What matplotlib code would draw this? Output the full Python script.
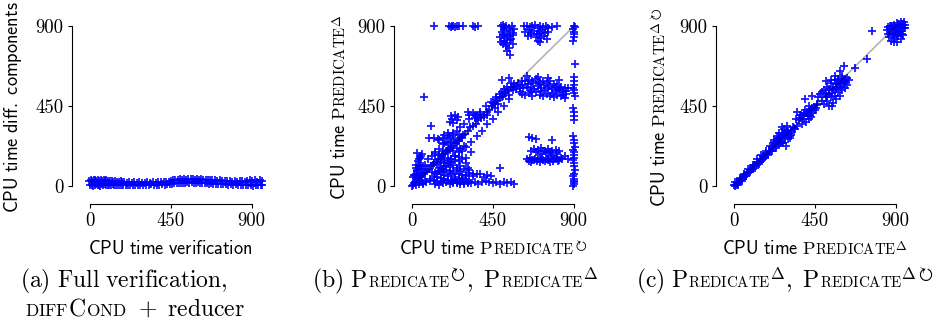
import matplotlib
matplotlib.use('Agg')
import matplotlib.pyplot as plt
from matplotlib.font_manager import FontProperties

plt.rcParams['mathtext.fontset'] = 'cm'

# ---------------- data ----------------
ticks = [0, 450, 900]
tick_labels = ['0', '450', '900']

# (a) full verification vs. diff components
a_x_upper = [-5, 4, 12, 20, 28, 36, 44, 52, 60, 68,
             76, 84, 92, 100, 110, 120, 130, 140, 150, 160,
             170, 180, 192, 205, 218, 232, 246, 260, 275, 290,
             305, 320, 335, 350, 365, 380, 395, 410, 425, 440,
             452, 464, 476, 488, 500, 512, 524, 536, 548, 560,
             572, 584, 596, 608, 620, 632, 644, 656, 668, 680,
             694, 708, 722, 736, 750, 764, 778, 792, 806, 820,
             834, 848, 862, 876, 890, 904, 918, 932, 946, 960]
a_y_upper = [30, 34, 27, 33, 36, 28, 34, 30, 35, 27,
             32, 29, 34, 26, 30, 27, 24, 29, 25, 22,
             26, 21, 24, 19, 22, 18, 21, 19, 20, 17,
             19, 21, 18, 20, 19, 22, 20, 23, 21, 25,
             28, 31, 34, 36, 38, 35, 39, 36, 40, 37,
             38, 35, 39, 36, 37, 33, 36, 32, 35, 31,
             33, 29, 31, 27, 30, 26, 28, 25, 27, 24,
             26, 29, 24, 28, 34, 26, 31, 24, 36, 27]
a_x_lower = [2, 10, 18, 26, 34, 42, 50, 58, 66, 74,
             82, 90, 98, 106, 116, 126, 136, 146, 156, 166,
             176, 186, 198, 211, 224, 238, 252, 266, 281, 296,
             311, 326, 341, 356, 371, 386, 401, 416, 431, 446,
             458, 470, 482, 494, 506, 518, 530, 542, 554, 566,
             578, 590, 602, 614, 626, 638, 650, 662, 674, 686,
             700, 714, 728, 742, 756, 770, 784, 798, 812, 826,
             840, 854, 868, 882, 896, 910, 924, 938, 952, 956]
a_y_lower = [4, 8, 2, 6, 10, 3, 7, 2, 9, 5,
             10, 4, 8, 6, 3, 9, 5, 7, 4, 8,
             6, 4, 8, 5, 7, 4, 6, 5, 8, 6,
             7, 6, 9, 5, 8, 6, 10, 7, 9, 11,
             13, 14, 16, 18, 15, 19, 17, 20, 18, 21,
             19, 17, 20, 16, 18, 15, 17, 13, 15, 12,
             13, 10, 12, 9, 11, 8, 10, 6, 9, 5,
             8, 4, 7, 3, 6, 2, 8, 5, 3, 7]

# (b) Predicate-loop (x) vs Predicate-delta (y)
b_top_x = [123, 208, 215, 222, 230, 238, 248, 262, 285, 340, 352, 368]
b_top_y = [900, 900, 898, 902, 900, 897, 903, 900, 900, 900, 898, 902]
b_ca_x = [495, 505, 515, 525, 540, 555, 570, 500, 512, 530, 545, 560, 490, 508,
          520, 535, 550, 565, 498, 515, 530, 545, 505, 525, 540, 560, 530, 545]
b_ca_y = [900, 910, 895, 905, 890, 900, 885, 870, 880, 860, 875, 865, 840, 850,
          835, 845, 830, 850, 815, 820, 805, 825, 800, 790, 780, 800, 760, 740]
b_cb_x = [625, 640, 655, 670, 685, 700, 715, 730, 745, 760, 780, 805,
          630, 650, 665, 680, 695, 710, 725, 740, 755,
          645, 660, 690, 705, 720, 735, 700, 715, 750]
b_cb_y = [900, 905, 895, 900, 910, 890, 900, 895, 905, 890, 895, 900,
          870, 880, 865, 875, 860, 870, 880, 865, 870,
          845, 850, 840, 855, 835, 845, 820, 815, 830]
b_col_x = [900, 905, 898, 903, 900, 902, 897, 905, 900, 903,
           900, 898, 902, 900, 905, 898, 900, 903, 900, 897,
           902, 900, 905, 898, 900, 903, 900, 897, 902, 900,
           905, 900, 898, 902, 900, 903, 900, 898]
b_col_y = [905, 895, 885, 870, 855, 840, 820, 690, 615, 590,
           570, 555, 540, 525, 510, 440, 415, 395, 370, 280,
           260, 240, 220, 205, 190, 175, 160, 145, 130, 115,
           90, 70, 55, 40, 30, 20, 10, 0]
b_cc_x = [570, 590, 610, 630, 650, 670, 690, 710, 730, 750, 770, 790, 810, 830, 850, 870,
          580, 600, 620, 640, 660, 680, 700, 720, 740, 760, 780, 800, 820, 840, 860,
          610, 630, 650, 670, 690, 710, 730, 750, 770, 790, 810, 830, 850,
          640, 700, 760, 820]
b_cc_y = [575, 580, 590, 595, 600, 590, 605, 585, 595, 580, 590, 575, 570, 560, 555, 550,
          545, 555, 550, 560, 555, 545, 565, 550, 540, 555, 545, 535, 540, 530, 520,
          520, 515, 525, 510, 530, 515, 505, 520, 510, 500, 515, 505, 495,
          620, 615, 610, 600]
b_cc2_x = [560, 585, 615, 645, 675, 705, 735, 765, 795, 825, 855, 600, 660, 720, 780, 840]
b_cc2_y = [560, 565, 570, 575, 580, 575, 570, 565, 560, 545, 535, 530, 535, 535, 525, 515]
b_cd_x = [650, 670, 690, 780,
          660, 680, 700, 720, 740, 760, 780, 800, 820,
          640, 655, 670, 685, 700, 715, 730, 745, 760, 775, 790, 805, 820, 835, 850, 870,
          720, 750, 780]
b_cd_y = [275, 270, 265, 260,
          200, 210, 205, 215, 200, 210, 195, 205, 200,
          150, 160, 145, 155, 150, 160, 145, 155, 150, 165, 150, 160, 145, 155, 170, 150,
          180, 185, 175]
b_cd2_x = [650, 665, 680, 695, 710, 725, 740, 755, 770, 785, 800, 815, 830, 690, 730, 770, 810]
b_cd2_y = [140, 135, 145, 140, 135, 150, 140, 145, 135, 140, 150, 140, 160, 190, 195, 190, 185]
b_low_x = [230, 250, 270, 290, 310, 330, 350, 370, 390, 410, 430, 450, 470, 490, 510, 530,
           550, 570, 300, 320, 340, 360, 380, 400, 420, 440, 490]
b_low_y = [20, 15, 25, 10, 20, 15, 25, 10, 20, 30, 25, 15, 20, 10, 25, 15,
           20, 10, 60, 75, 55, 70, 65, 50, 60, 55, 100]
b_diag_x = [5, 15, 25, 35, 45, 55, 65, 75, 85, 95, 105, 115, 125, 135, 145, 155, 165, 175,
            185, 195, 205, 215, 225, 235, 245, 255, 265, 275, 285, 295, 310, 325, 340, 355,
            370, 385, 400, 415, 430, 445, 460, 475, 490, 505, 520, 535, 550]
b_diag_y = [8, 20, 30, 35, 50, 55, 70, 80, 90, 95, 110, 120, 130, 135, 150, 155, 170, 180,
            185, 195, 210, 215, 225, 240, 245, 255, 270, 275, 290, 295, 310, 330, 340, 350,
            375, 385, 400, 420, 430, 450, 465, 480, 500, 510, 525, 540, 550]
b_above_x = [10, 30, 50, 70, 90, 110, 130, 150, 170, 190, 210, 230, 250, 270, 290,
             320, 350, 380, 410, 440, 470, 500]
b_above_y = [60, 85, 110, 120, 150, 170, 190, 210, 235, 250, 270, 290, 310, 330, 350,
             380, 400, 420, 450, 475, 500, 530]
b_below_x = [60, 80, 100, 120, 140, 160, 180, 200, 220, 240, 260, 280, 300, 330, 360,
             390, 420, 450, 480, 510, 540]
b_below_y = [10, 20, 40, 50, 70, 90, 110, 130, 150, 170, 190, 200, 220, 250, 280,
             310, 350, 380, 420, 450, 490]
b_blob_x = [130, 150, 170, 190, 210, 230, 250, 270, 290, 310,
            140, 160, 180, 200, 220, 240, 260, 280, 300,
            150, 170, 190, 210, 230, 250, 270,
            160, 180, 200, 220, 240, 260,
            320, 340, 300, 330]
b_blob_y = [10, 5, 15, 20, 10, 15, 25, 10, 20, 15,
            50, 45, 60, 55, 65, 50, 70, 60, 55,
            100, 95, 110, 105, 120, 100, 115,
            150, 145, 160, 155, 170, 165,
            90, 70, 130, 190]
b_blob2_x = [100, 120, 140, 160, 180, 200, 220, 240, 260, 280, 300, 320,
             110, 130, 150, 170, 190, 210, 230, 250, 270, 290, 310,
             120, 140, 160, 180, 200, 220, 240, 260, 280, 300,
             130, 150, 170, 190, 210, 230, 250, 270, 290,
             180, 200, 220, 240, 260, 280, 200, 230, 260]
b_blob2_y = [30, 35, 25, 30, 40, 35, 30, 40, 35, 45, 40, 30,
             80, 75, 85, 80, 90, 85, 80, 90, 85, 95, 100,
             130, 125, 135, 130, 140, 135, 145, 140, 150, 160,
             180, 175, 200, 195, 205, 200, 215, 210, 225,
             240, 235, 250, 260, 255, 270, 280, 300, 290]
b_left_x = [0, 10, 20, 30, 40, 50, 60, 70, 5, 15, 25, 35, 45, 55, 20, 30, 40, 50, 60,
            35, 45, 55]
b_left_y = [0, 15, 5, 20, 10, 25, 15, 30, 50, 60, 45, 70, 55, 75, 100, 90, 110, 95, 115,
            140, 160, 180]
b_upleft_x = [67, 106, 95, 120, 145, 173, 30, 50, 40, 20, 45, 210, 225, 240, 255,
              230, 250, 215, 320, 340, 360, 380, 400, 420, 350, 313, 150, 180, 200]
b_upleft_y = [503, 341, 268, 270, 265, 268, 185, 170, 150, 120, 110, 360, 380, 400, 390,
              355, 370, 395, 400, 410, 395, 405, 390, 400, 385, 419, 260, 290, 300]
b_mid_x = [450, 470, 490, 510, 530, 550, 480, 500, 520, 540, 560, 460, 500, 540]
b_mid_y = [470, 490, 520, 545, 560, 580, 460, 500, 530, 515, 540, 440, 600, 610]

# (c) Predicate-delta (x) vs Predicate-delta-loop (y)
c_line_x = [2, 10, 18, 26, 34, 42, 50, 58, 66, 74, 82, 90, 98, 106, 114, 122, 130, 138,
            146, 154, 162, 170, 178, 186, 194, 202, 210, 218, 226, 234, 242, 250]
c_line_y = [5, 8, 20, 22, 35, 40, 48, 60, 62, 76, 80, 92, 96, 108, 118, 120, 135, 136,
            150, 152, 168, 165, 185, 182, 200, 198, 218, 212, 235, 228, 250, 245]
c_line2_x = [5, 15, 25, 35, 45, 55, 65, 75, 85, 95, 105, 115, 125, 135, 145, 155, 165,
             175, 185, 195, 205, 215, 225, 235]
c_line2_y = [0, 12, 15, 28, 38, 50, 58, 72, 80, 90, 95, 112, 118, 132, 135, 152, 160,
             168, 178, 196, 200, 212, 218, 238]
c_line3_x = [8, 20, 32, 44, 56, 68, 80, 92, 104, 116, 128, 140, 152, 164, 176, 188, 200,
             212, 224, 236, 248, 260, 272, 284]
c_line3_y = [20, 5, 45, 30, 70, 55, 95, 78, 120, 100, 150, 125, 175, 150, 200, 175, 225,
             195, 250, 215, 270, 245, 285, 300]
c_c1_x = [225, 240, 255, 270, 285, 300, 315, 330, 235, 260, 280, 300, 320, 250, 275,
          295, 310, 270, 290, 340,
          230, 245, 260, 275, 290, 305, 320, 335, 250, 280, 310, 265, 295]
c_c1_y = [260, 280, 240, 300, 270, 310, 290, 330, 235, 255, 320, 265, 300, 300, 245,
          340, 270, 330, 225, 320,
          245, 265, 275, 285, 295, 300, 310, 325, 270, 290, 280, 250, 310]
c_c2_x = [360, 375, 390, 405, 420, 435, 450, 380, 400, 420, 440, 370, 395, 415, 430,
          460, 350, 345, 365, 385, 405, 425, 445, 465, 390, 410, 430, 455]
c_c2_y = [370, 400, 380, 420, 400, 440, 430, 350, 360, 380, 410, 400, 430, 450, 390,
          460, 340, 380, 385, 395, 410, 425, 445, 455, 410, 395, 430, 440]
c_c3_x = [480, 500, 520, 540, 560, 580, 600, 620, 490, 510, 530, 550, 570, 590, 610, 630,
          500, 520, 540, 560, 580, 600, 620, 530, 550, 570, 590, 470, 510, 560, 600, 640,
          490, 510, 530, 550, 570, 590, 610, 630, 520, 545, 570, 595, 620, 540, 580]
c_c3_y = [520, 540, 560, 580, 600, 590, 610, 600, 480, 500, 520, 540, 560, 570, 580, 570,
          460, 480, 500, 510, 530, 540, 550, 450, 470, 490, 510, 500, 590, 620, 620, 600,
          530, 520, 545, 555, 575, 580, 595, 610, 505, 525, 545, 560, 585, 600, 605]
c_out_x = [397, 436, 548, 593, 610, 676, 743, 771, 350]
c_out_y = [492, 509, 453, 649, 676, 665, 716, 872, 420]
c_top_x = [850, 870, 890, 910, 930, 945, 860, 880, 900, 920, 940, 865, 885, 905, 925, 945,
           875, 895, 915, 935, 880, 900, 920, 940, 890, 910, 930,
           855, 875, 895, 915, 935, 950, 870, 890, 910, 930, 950]
c_top_y = [880, 900, 910, 920, 930, 925, 860, 870, 880, 900, 910, 840, 850, 860, 880, 890,
           820, 830, 845, 860, 900, 890, 870, 850, 810, 815, 830,
           895, 905, 895, 910, 915, 910, 885, 860, 855, 875, 890]

a_x = a_x_upper + a_x_lower
a_y = a_y_upper + a_y_lower
b_x = (b_top_x + b_ca_x + b_cb_x + b_col_x + b_cc_x + b_cc2_x + b_cd_x + b_cd2_x
       + b_low_x + b_diag_x + b_above_x + b_below_x + b_blob_x + b_blob2_x + b_left_x
       + b_upleft_x + b_mid_x)
b_y = (b_top_y + b_ca_y + b_cb_y + b_col_y + b_cc_y + b_cc2_y + b_cd_y + b_cd2_y
       + b_low_y + b_diag_y + b_above_y + b_below_y + b_blob_y + b_blob2_y + b_left_y
       + b_upleft_y + b_mid_y)
c_x = c_line_x + c_line2_x + c_line3_x + c_c1_x + c_c2_x + c_c3_x + c_out_x + c_top_x
c_y = c_line_y + c_line2_y + c_line3_y + c_c1_y + c_c2_y + c_c3_y + c_out_y + c_top_y

# ---------------- figure ----------------
W, H = 936, 324
fig = plt.figure(figsize=(W / 100, H / 100), dpi=100)

XL = (-100, 980)
YL = (-100, 950)
TOP_PX, BOT_PX, WID_PX = 17.6, 203.7, 194


def make_ax(left_px):
    ax = fig.add_axes([left_px / W, 1 - BOT_PX / H, WID_PX / W, (BOT_PX - TOP_PX) / H])
    ax.set_xlim(*XL)
    ax.set_ylim(*YL)
    for s in ['top', 'right']:
        ax.spines[s].set_visible(False)
    for s in ['left', 'bottom']:
        ax.spines[s].set_bounds(ticks[0], ticks[-1])
        ax.spines[s].set_linewidth(0.8)
    ax.set_xticks(ticks, tick_labels)
    ax.set_yticks(ticks, tick_labels)
    ax.tick_params(length=3, width=0.8, pad=3, labelsize=13.5, labelfontfamily='cmr10')
    ax.patch.set_visible(False)
    return ax


def scatter(ax, x, y, diag=True):
    ax.plot(x, y, ls='none', marker='+', ms=5.6, mew=1.3, color='#0000ff',
            alpha=0.9, zorder=2)
    if diag:
        ax.plot([ticks[0], ticks[-1]], [ticks[0], ticks[-1]], color='black',
                alpha=0.3, lw=1.2, zorder=3, solid_capstyle='butt')


axa = make_ax(72)
axb = make_ax(394)
axc = make_ax(716)
scatter(axa, a_x, a_y, diag=False)
scatter(axb, b_x, b_y)
scatter(axc, c_x, c_y)

# ---------------- rich text labels ----------------
renderer = fig.canvas.get_renderer()


def piece_width(s, size):
    w, h, d = renderer.get_text_width_height_descent(s, FontProperties(size=size), ismath=True)
    return w


def rich(pieces, x_px, y_px, align='center', vertical=False):
    pieces = [p if len(p) == 3 else (p[0], p[1], 0) for p in pieces]
    widths = [piece_width(s, sz) + k for s, sz, k in pieces]
    total = sum(widths)
    pos = -total / 2 if align == 'center' else 0
    for (s, sz, k), w in zip(pieces, widths):
        pos += k
        if vertical:
            fig.text(x_px / W, 1 - (y_px - pos) / H, s, fontsize=sz, rotation=90,
                     rotation_mode='anchor', ha='left', va='baseline')
        else:
            fig.text((x_px + pos) / W, 1 - y_px / H, s, fontsize=sz,
                     ha='left', va='baseline')
        pos += w - k


LS, SC = 13.2, 10.6
CS, CSC = 17, 10.8
KA = -3  # pull the circular-arrow superscript closer
KD = -2  # pull the delta superscript closer

cpu_p = r"$\mathsf{CPU\ time}\ \mathrm{P}$"
red = r"$\mathrm{REDICATE}$"
xlabel_a = [(r"$\mathsf{CPU\ time\ verification}$", LS)]
ylabel_a = [(r"$\mathsf{CPU\ time\ diff.\ components}$", LS)]
xlabel_b = [(cpu_p, LS), (red, SC), (r"${}^{\circlearrowright}$", LS, KA)]
ylabel_b = [(cpu_p, LS), (red, SC), (r"${}^{\Delta}$", LS, KD)]
xlabel_c = [(cpu_p, LS), (red, SC), (r"${}^{\Delta}$", LS, KD)]
ylabel_c = [(cpu_p, LS), (red, SC), (r"${}^{\Delta\circlearrowright}$", LS, KD)]

rich(xlabel_a, 170.5, 254)
rich(xlabel_b, 493, 254)
rich(xlabel_c, 814.5, 254)
rich(ylabel_a, 18.5, 107.5, vertical=True)
rich(ylabel_b, 345, 107.5, vertical=True)
rich(ylabel_c, 665, 107.5, vertical=True)

cap_red = (r"$\mathrm{REDICATE}$", CSC)
cap_a1 = [(r"$\mathrm{(a)\ Full\ verification,}$", CS)]
cap_a2 = [(r"$\mathrm{DIFF}$", 12.5), (r"$\mathrm{C}$", CS), (r"$\mathrm{OND}$", 12.5),
          (r"$\ +\ \mathrm{reducer}$", CS)]
cap_b = [(r"$\mathrm{(b)\ P}$", CS), cap_red, (r"${}^{\circlearrowright}$", CS, KA - 1),
         (r"$\mathrm{,\ P}$", CS), cap_red, (r"${}^{\mathit{\Delta}}$", CS, KD)]
cap_c = [(r"$\mathrm{(c)\ P}$", CS), cap_red, (r"${}^{\mathit{\Delta}}$", CS, KD),
         (r"$\mathrm{,\ P}$", CS), cap_red, (r"${}^{\mathit{\Delta}\circlearrowright}$", CS, KD)]

rich(cap_a1, 20, 287, align='left')
rich(cap_a2, 25, 316, align='left')
rich(cap_b, 455, 287)
rich(cap_c, 785, 287)

fig.savefig('out.png', dpi=100)
